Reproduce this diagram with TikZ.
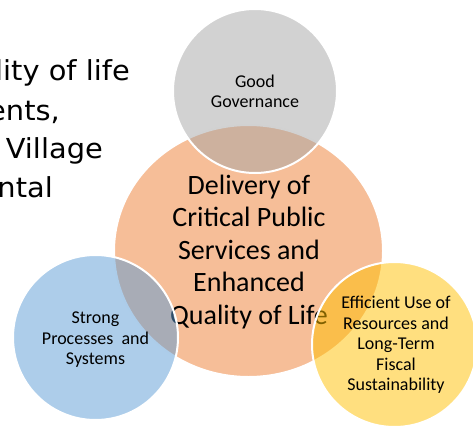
\documentclass[tikz,border=0pt]{standalone}
\usepackage{fontspec}
\setmainfont{Carlito}
\newfontfamily\slidefont[FakeStretch=1.05]{DejaVu Sans}
\definecolor{accOrange}{RGB}{237,125,49}
\definecolor{accGrey}{RGB}{165,165,165}
\definecolor{accBlue}{RGB}{91,155,213}
\definecolor{accGold}{RGB}{255,192,0}

\begin{document}
\begin{tikzpicture}[x=1pt,y=-1pt,
  bubble/.style={fill opacity=0.5, draw=white, draw opacity=1, line width=2pt},
  slidetext/.style={font=\slidefont\fontsize{27.5}{27.5}\selectfont, anchor=base east, inner sep=0pt},
  coretext/.style={font=\fontsize{28}{32.5}\selectfont, align=center, inner sep=0pt},
  pillartext/.style={font=\fontsize{18}{20.5}\selectfont, align=center, inner sep=0pt}
]
\useasboundingbox (0,0) rectangle (473,425);
\clip (0,0) rectangle (473,425);

% slide text running behind the diagram
\node[slidetext] (s1) at (130,81) {lity of life};
\node[slidetext] (s2) at (60,120) {ents,};
\node[slidetext] (s3) at (103,158.5) {Village};
\node[slidetext] (s4) at (53,197) {ntal};

% central outcome
\filldraw[bubble, fill=accOrange] (248.5,251) ellipse [x radius=134.5, y radius=126];
\node[coretext] (core) at (249,252) {Delivery of\\Critical Public\\Services and\\Enhanced\\Quality of Life};

% supporting pillars
\filldraw[bubble, fill=accGrey] (255,91) circle [radius=82];
\node[pillartext] (gov) at (255,91.5) {Good\\Governance};

\filldraw[bubble, fill=accBlue] (95.5,337.5) circle [radius=82.5];
\node[pillartext] (proc) at (95.5,340) {Strong\\Processes~~and\\Systems};

\filldraw[bubble, fill=accGold] (394.5,344.5) circle [radius=82.5];
\node[pillartext] (fisc) at (396,345) {Efficient Use of\\Resources and\\Long-Term\\Fiscal\\Sustainability};
\end{tikzpicture}
\end{document}
